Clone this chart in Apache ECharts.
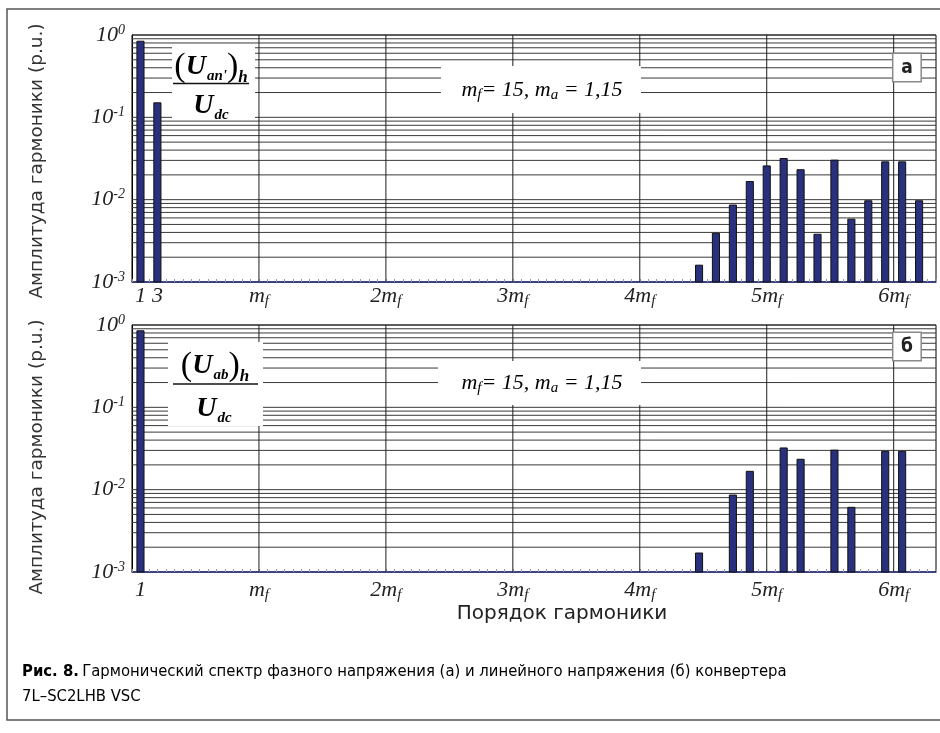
<!DOCTYPE html>
<html>
<head>
<meta charset="utf-8">
<script src="https://cdn.jsdelivr.net/npm/echarts@6/dist/echarts.min.js"></script>
<style>
  html, body { margin: 0; padding: 0; background: #fff; }
  #chart { width: 940px; height: 733px; }
</style>
</head>
<body>
<div id="chart"></div>
<script>
// Phase voltage spectrum (а): harmonic order and amplitude, p.u.
const phaseOrders = [1, 3, 67, 69, 71, 73, 75, 77, 79, 81, 83, 85, 87, 89, 91, 93];
const phaseAmps   = [0.84, 0.15, 0.0016, 0.0039, 0.0086, 0.0166, 0.0257, 0.0316, 0.0231, 0.0038, 0.0302, 0.0058, 0.0097, 0.0288, 0.0288, 0.0097];

// Line voltage spectrum (б)
const lineOrders = [1, 67, 71, 73, 77, 79, 83, 85, 89, 91];
const lineAmps   = [0.85, 0.0017, 0.0086, 0.0167, 0.0321, 0.0234, 0.0302, 0.0061, 0.0292, 0.0292];

// Harmonic-axis labels (m_f = 15)
const phaseTickOrders = [1, 3, 15, 30, 45, 60, 75, 90];
const phaseTickLabels = ['1', '3', 'm_f', '2m_f', '3m_f', '4m_f', '5m_f', '6m_f'];
const lineTickOrders  = [1, 15, 30, 45, 60, 75, 90];
const lineTickLabels  = ['1', 'm_f', '2m_f', '3m_f', '4m_f', '5m_f', '6m_f'];

// Vertical grid at multiples of m_f
const mfOrders = [15, 30, 45, 60, 75, 90];

const X_MIN = 0, X_MAX = 95;
const Y_MIN = 0.001, Y_MAX = 1;

// Log grid: 1..9 within every decade, plus the top line
const decades = [0.001, 0.01, 0.1];
const mantissas = [1, 2, 3, 4, 5, 6, 7, 8, 9];
const logGridValues = [];
decades.forEach(d => mantissas.forEach(m => {
  const v = +(d * m).toPrecision(3);
  if (v > Y_MIN) logGridValues.push(v);
}));
logGridValues.push(Y_MAX);

// Minor ticks on every harmonic
const harmonicTicks = Array.from({ length: X_MAX - X_MIN + 1 }, (_, i) => X_MIN + i);

const BAR_FILL = '#29317f';
const GRID_COLOR = '#3a3a3a';
const SERIF = '"Liberation Serif", "Times New Roman", serif';
const SANS = '"DejaVu Sans", "Liberation Sans", Arial, sans-serif';
const CAPTION_FONT = '"DejaVu Sans Condensed", "Liberation Sans Narrow", sans-serif';

function tickFormatter(orders, labels) {
  return function (v) {
    const i = orders.indexOf(Math.round(v));
    if (i < 0) return '';
    const lab = labels[i];
    if (lab.indexOf('_') >= 0) {
      const parts = lab.split('_');
      return '{n|' + parts[0] + '}{s|' + parts[1] + '}';
    }
    return '{n|' + lab + '}';
  };
}

const xRich = {
  n: { fontFamily: SERIF, fontStyle: 'italic', fontSize: 22, color: '#222', lineHeight: 26 },
  s: { fontFamily: SERIF, fontStyle: 'italic', fontSize: 15, color: '#222', lineHeight: 12, verticalAlign: 'bottom' }
};
const yRich = {
  b: { fontFamily: SERIF, fontStyle: 'italic', fontSize: 22, color: '#222', lineHeight: 24 },
  s: { fontFamily: SERIF, fontStyle: 'italic', fontSize: 14, color: '#222', lineHeight: 12, verticalAlign: 'top' }
};

function xAxisFor(gridIndex, orders, labels, margin) {
  return {
    gridIndex: gridIndex,
    type: 'value',
    min: X_MIN,
    max: X_MAX,
    axisLine: { show: true, lineStyle: { color: '#2a2f85', width: 1.5 } },
    axisTick: { show: true, inside: true, length: 3, customValues: harmonicTicks, lineStyle: { color: '#9a9a9a', width: 1 } },
    axisLabel: { customValues: orders, formatter: tickFormatter(orders, labels), rich: xRich, margin: margin },
    splitLine: { show: false }
  };
}

function yAxisFor(gridIndex) {
  return {
    gridIndex: gridIndex,
    type: 'log',
    logBase: 10,
    min: Y_MIN,
    max: Y_MAX,
    axisLine: { show: true, lineStyle: { color: '#000', width: 1 } },
    axisTick: { show: false },
    splitLine: { show: false },
    axisLabel: {
      margin: 7,
      formatter: function (v) {
        const e = Math.round(Math.log10(v));
        return '{b|10}{s|' + (e < 0 ? '-' + (-e) : e) + '}';
      },
      rich: yRich
    }
  };
}

function hLine(params, api) {
  const v = api.value(1);
  const a = api.coord([X_MIN, v]);
  const b = api.coord([X_MAX, v]);
  return { type: 'line', shape: { x1: a[0], y1: a[1], x2: b[0], y2: b[1] }, style: { stroke: GRID_COLOR, lineWidth: 1 } };
}

function vLine(params, api) {
  const h = api.value(0);
  const a = api.coord([h, Y_MIN]);
  const b = api.coord([h, Y_MAX]);
  return { type: 'line', shape: { x1: a[0], y1: a[1], x2: b[0], y2: b[1] }, style: { stroke: '#1e1e1e', lineWidth: 1 } };
}

function bar(params, api) {
  const h = api.value(0);
  const v = api.value(1);
  const top = api.coord([h, v]);
  const base = api.coord([h, Y_MIN]);
  const left = api.coord([h - 0.42, v])[0];
  const right = api.coord([h + 0.42, v])[0];
  return {
    type: 'rect',
    shape: { x: left, y: top[1], width: right - left, height: base[1] - top[1] },
    style: { fill: BAR_FILL, stroke: '#111', lineWidth: 1 }
  };
}

function panelSeries(idx, orders, amps) {
  return [
    { type: 'custom', xAxisIndex: idx, yAxisIndex: idx, silent: true, z: 1, renderItem: hLine,
      data: logGridValues.map(v => [X_MIN, v]) },
    { type: 'custom', xAxisIndex: idx, yAxisIndex: idx, silent: true, z: 1, renderItem: vLine,
      data: mfOrders.map(h => [h, Y_MIN]) },
    { type: 'custom', xAxisIndex: idx, yAxisIndex: idx, silent: true, z: 3, renderItem: bar,
      data: orders.map((h, i) => [h, amps[i]]) }
  ];
}

// Fraction labels and annotation boxes
const fracRich = {
  p: { fontFamily: SERIF, fontSize: 34, color: '#111', lineHeight: 38 },
  u: { fontFamily: SERIF, fontStyle: 'italic', fontWeight: 'bold', fontSize: 28, color: '#111', lineHeight: 38 },
  s: { fontFamily: SERIF, fontStyle: 'italic', fontWeight: 'bold', fontSize: 15, color: '#111', lineHeight: 18, verticalAlign: 'bottom', padding: [0, 0, 2, 1] },
  h: { fontFamily: SERIF, fontStyle: 'italic', fontWeight: 'bold', fontSize: 17, color: '#111', lineHeight: 18, verticalAlign: 'bottom' }
};
const paramRich = {
  t: { fontFamily: SERIF, fontStyle: 'italic', fontSize: 22, color: '#222', lineHeight: 26 },
  s: { fontFamily: SERIF, fontStyle: 'italic', fontSize: 15, color: '#222', lineHeight: 12, verticalAlign: 'bottom' }
};
const paramText = '{t|m}{s|f}{t|= 15, m}{s|a}{t| = 1,15}';

function textEl(x, y, text, rich) {
  return {
    type: 'text', z: 20, silent: true,
    style: { x: x, y: y, text: text, rich: rich, align: 'center', verticalAlign: 'middle', textAlign: 'center', textVerticalAlign: 'middle' }
  };
}
function whiteBox(x, y, w, h) {
  return { type: 'rect', z: 10, silent: true, shape: { x: x, y: y, width: w, height: h }, style: { fill: '#fff' } };
}
function letterBox(x, y, letter) {
  return [
    { type: 'rect', z: 12, silent: true, shape: { x: x, y: y, width: 28.5, height: 28.5 }, style: { fill: '#fff', stroke: '#8a8a8a', lineWidth: 1.5 } },
    { type: 'text', z: 13, silent: true, style: { x: x + 14.25, y: y + 14.5, text: letter, font: 'bold 19px ' + CAPTION_FONT, fill: '#222', align: 'center', verticalAlign: 'middle', textAlign: 'center', textVerticalAlign: 'middle' } }
  ];
}
function fracBar(x1, x2, y) {
  return { type: 'line', z: 12, silent: true, shape: { x1: x1, y1: y, x2: x2, y2: y }, style: { stroke: '#111', lineWidth: 1.5 } };
}
function verticalTitle(x, y, text) {
  return { type: 'text', z: 20, silent: true, x: x, y: y, rotation: Math.PI / 2,
    style: { x: 0, y: 0, text: text, font: '18.5px ' + SANS, fill: '#333', align: 'center', verticalAlign: 'middle', textAlign: 'center', textVerticalAlign: 'middle' } };
}

const graphics = [
  // outer frame
  { type: 'rect', z: 0, silent: true, shape: { x: 7, y: 9, width: 945, height: 711 }, style: { fill: 'none', stroke: '#555', lineWidth: 1.5 } },

  // panel а
  whiteBox(172, 47, 83, 72),
  fracBar(173, 249, 83.5),
  textEl(211, 67, '{p|(}{u|U}{s|an\'}{p|)}{h|h}', fracRich),
  textEl(211, 106, '{u|U}{s|dc}', fracRich),
  whiteBox(441, 66, 200, 47),
  textEl(542, 90, paramText, paramRich),
  ...letterBox(892.7, 53.3, 'а'),

  // panel б
  whiteBox(168, 342, 95, 84),
  fracBar(173, 258, 384),
  textEl(215, 366, '{p|(}{u|U}{s|ab}{p|)}{h|h}', fracRich),
  textEl(214, 409, '{u|U}{s|dc}', fracRich),
  whiteBox(438, 361, 203, 44),
  textEl(542, 383, paramText, paramRich),
  ...letterBox(892.7, 332.3, 'б'),

  // axis titles
  verticalTitle(37, 161, 'Амплитуда гармоники (р.u.)'),
  verticalTitle(37, 457, 'Амплитуда гармоники (р.u.)'),
  { type: 'text', z: 20, silent: true,
    style: { x: 562, y: 614, text: 'Порядок гармоники', font: '20px ' + SANS, fill: '#222', align: 'center', verticalAlign: 'middle', textAlign: 'center', textVerticalAlign: 'middle' } },

  // caption
  { type: 'text', z: 20, silent: true,
    style: {
      x: 22, y: 659,
      text: '{b|Рис. 8.} {r|Гармонический спектр фазного напряжения (а) и линейного напряжения (б) конвертера}\n{r|7L–SC2LHB VSC}',
      rich: {
        b: { fontFamily: CAPTION_FONT, fontWeight: 'bold', fontSize: 16.5, color: '#222', lineHeight: 25 },
        r: { fontFamily: CAPTION_FONT, fontSize: 16.5, color: '#3a3a3a', lineHeight: 25 }
      },
      align: 'left', verticalAlign: 'top', textAlign: 'left', textVerticalAlign: 'top'
    } }
];

const chart = echarts.init(document.getElementById('chart'), null, { renderer: 'canvas' });
chart.setOption({
  animation: false,
  backgroundColor: '#fff',
  grid: [
    { left: 132, right: 4, top: 35, height: 247, show: true, borderColor: '#000', borderWidth: 1, backgroundColor: '#fff' },
    { left: 132, right: 4, top: 325, height: 247, show: true, borderColor: '#000', borderWidth: 1, backgroundColor: '#fff' }
  ],
  xAxis: [
    xAxisFor(0, phaseTickOrders, phaseTickLabels, 1),
    xAxisFor(1, lineTickOrders, lineTickLabels, 5)
  ],
  yAxis: [yAxisFor(0), yAxisFor(1)],
  series: [].concat(panelSeries(0, phaseOrders, phaseAmps), panelSeries(1, lineOrders, lineAmps)),
  graphic: graphics
});
</script>
</body>
</html>
